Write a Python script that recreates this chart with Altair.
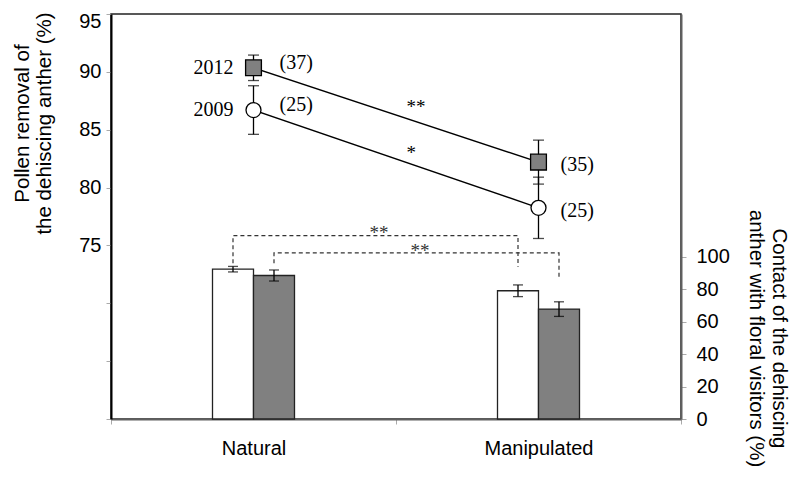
import altair as alt
import pandas as pd

categories = ["Natural", "Manipulated"]
years = ["2009", "2012"]

# Pollen removal of the dehiscing anther (%), mean and SE
pollen_mean_2009 = [86.7, 78.25]
pollen_se_2009 = [2.1, 2.65]
pollen_mean_2012 = [90.35, 82.2]
pollen_se_2012 = [1.1, 1.9]
sample_size_2009 = ["(25)", "(25)"]
sample_size_2012 = ["(37)", "(35)"]

# Contact of the dehiscing anther with floral visitors (%), mean and SE
contact_mean_2009 = [92.3, 79.0]
contact_se_2009 = [1.7, 3.6]
contact_mean_2012 = [88.4, 67.7]
contact_se_2012 = [3.4, 4.5]

# significance marks
line_sig = ["*", "**"]          # 2009, 2012 (pollen removal)
line_sig_y = [82.95, 86.93]
bracket_sig = ["**", "**"]      # 2009, 2012 (contact)
bracket_start = [96.0, 96.0]
bracket_top = [113.0, 102.3]
bracket_end = [93.8, 87.7]
bracket_sig_y = [114.3, 103.2]

# ---------------------------------------------------------------- tables
pollen_rows = []
for yr, means, ses, ns in [("2009", pollen_mean_2009, pollen_se_2009, sample_size_2009),
                           ("2012", pollen_mean_2012, pollen_se_2012, sample_size_2012)]:
    for c, m, s, n in zip(categories, means, ses, ns):
        pollen_rows.append({"category": c, "year": yr, "mean": m,
                            "low": m - s, "high": m + s, "n": n})
pollen_df = pd.DataFrame(pollen_rows)

contact_rows = []
for yr, means, ses in [("2009", contact_mean_2009, contact_se_2009),
                       ("2012", contact_mean_2012, contact_se_2012)]:
    for c, m, s in zip(categories, means, ses):
        contact_rows.append({"category": c, "year": yr, "mean": m,
                             "low": m - s, "high": m + s})
contact_df = pd.DataFrame(contact_rows)

bracket_rows = []
for i, yr in enumerate(years):
    pts = [(categories[0], bracket_start[i]), (categories[0], bracket_top[i]),
           (categories[1], bracket_top[i]), (categories[1], bracket_end[i])]
    for k, (c, v) in enumerate(pts):
        bracket_rows.append({"year": yr, "category": c, "value": v, "seq": k})
bracket_df = pd.DataFrame(bracket_rows)

bracket_sig_df = pd.DataFrame({"year": years, "category": categories[0],
                               "label": bracket_sig, "y": bracket_sig_y})
line_sig_df = pd.DataFrame({"year": years, "category": categories[0],
                            "label": line_sig, "y": line_sig_y})

# ---------------------------------------------------------------- scales / axes
FONT = "Liberation Sans"
SERIF = "Liberation Serif"

x_enc = alt.X("category:N",
              scale=alt.Scale(domain=categories, paddingInner=0, paddingOuter=0),
              axis=alt.Axis(orient="bottom", tickBand="extent", labelAngle=0,
                            domainColor="#606060", domainWidth=2,
                            tickColor="#aaaaaa", tickSize=5,
                            labelFontSize=20, labelFont=FONT, labelColor="black",
                            labelPadding=14, grid=False),
              title=None)

pollen_scale = alt.Scale(domain=[60, 95], nice=False, zero=False)
pollen_axis = alt.Axis(orient="left", values=[60, 65, 70, 75, 80, 85, 90, 95],
                       labelExpr="datum.value >= 75 ? datum.label : ''",
                       grid=False, domainColor="black", domainWidth=2,
                       tickColor="#aaaaaa", tickSize=5,
                       labelFontSize=20, labelFont=FONT, labelColor="black",
                       labelPadding=5, labelFlush=True, labelFlushOffset=3,
                       labelOverlap=False,
                       title=["Pollen removal of", "the dehiscing anther (%)"],
                       titleFontSize=20.5, titleFont=FONT, titleFontWeight="normal",
                       titleColor="black", titleAngle=270, titleX=-89, titleY=109,
                       titleAlign="center", titleBaseline="middle", titleLineHeight=22)

contact_scale = alt.Scale(domain=[0, 249.5], nice=False, zero=True)
contact_axis = alt.Axis(orient="right", values=[0, 20, 40, 60, 80, 100],
                        grid=False, domainColor="#606060", domainWidth=2,
                        tickColor="#aaaaaa", tickSize=5,
                        labelFontSize=20, labelFont=FONT, labelColor="black",
                        labelPadding=10, labelFlush=False, labelOverlap=False,
                        title=["Contact of the dehiscing", "anther with floral visitors (%)"],
                        titleFontSize=20.5, titleFont=FONT, titleFontWeight="normal",
                        titleColor="black", titleAngle=90, titleX=97, titleY=324,
                        titleAlign="center", titleBaseline="middle", titleLineHeight=23)


def py(field):
    return alt.Y(field, type="quantitative", scale=pollen_scale, axis=pollen_axis)


def cy(field):
    return alt.Y(field, type="quantitative", scale=contact_scale, axis=contact_axis)


x_off = alt.XOffset("year:N", scale=alt.Scale(domain=years, paddingInner=0,
                                              paddingOuter=0, range=[101.5, 183.5]))

# ---------------------------------------------------------------- pollen layers
pbase = alt.Chart(pollen_df)

p_rule = pbase.mark_rule(color="black", strokeWidth=1.3).encode(
    x=x_enc, y=py("low"), y2="high")
p_caps = pbase.transform_fold(["low", "high"], as_=["end", "val"]).mark_tick(
    color="black", thickness=1.3, size=11, orient="horizontal").encode(
    x=x_enc, y=py("val"))
p_line = pbase.mark_line(color="black", strokeWidth=1.4).encode(
    x=x_enc, y=py("mean"), detail="year:N")
p_circle = pbase.transform_filter(alt.datum.year == "2009").mark_point(
    shape="circle", size=225, fill="white", stroke="black", strokeWidth=1.3,
    opacity=1, fillOpacity=1).encode(x=x_enc, y=py("mean"))
p_square = pbase.transform_filter(alt.datum.year == "2012").mark_point(
    shape="square", size=250, fill="#808080", stroke="black", strokeWidth=1.3,
    opacity=1, fillOpacity=1).encode(x=x_enc, y=py("mean"))
p_year = pbase.transform_filter(alt.datum.category == "Natural").mark_text(
    font=SERIF, fontSize=20, align="right", baseline="middle", dx=-20, color="black").encode(
    x=x_enc, y=py("mean"), text="year:N")
p_n_nat = pbase.transform_filter(alt.datum.category == "Natural").mark_text(
    font=SERIF, fontSize=20, align="left", baseline="middle", dx=26, dy=-5, color="black").encode(
    x=x_enc, y=py("mean"), text="n:N")
p_n_man = pbase.transform_filter(alt.datum.category == "Manipulated").mark_text(
    font=SERIF, fontSize=20, align="left", baseline="middle", dx=22, dy=3, color="black").encode(
    x=x_enc, y=py("mean"), text="n:N")
p_sig = alt.Chart(line_sig_df).mark_text(
    font=SERIF, fontSize=19, align="left", baseline="middle", dx=153, color="black").encode(
    x=x_enc, y=py("y"), text="label:N")

pollen_layer = alt.layer(p_rule, p_caps, p_line, p_circle, p_square,
                         p_year, p_n_nat, p_n_man, p_sig)

# ---------------------------------------------------------------- contact layers
cbase = alt.Chart(contact_df)

c_bar = cbase.mark_bar(stroke="#222222", strokeWidth=1.3, opacity=1).encode(
    x=x_enc, xOffset=x_off, y=cy("mean"),
    fill=alt.Fill("year:N", scale=alt.Scale(domain=years, range=["white", "#808080"]),
                  legend=None))
c_rule = cbase.mark_rule(color="black", strokeWidth=1.3).encode(
    x=x_enc, xOffset=x_off, y=cy("low"), y2="high")
c_caps = cbase.transform_fold(["low", "high"], as_=["end", "val"]).mark_tick(
    color="black", thickness=1.3, size=10, orient="horizontal").encode(
    x=x_enc, xOffset=x_off, y=cy("val"))
c_bracket = alt.Chart(bracket_df).mark_line(
    color="#333333", strokeWidth=1.2, strokeDash=[4, 3]).encode(
    x=x_enc, xOffset=x_off, y=cy("value"), detail="year:N", order="seq:Q")
c_sig = alt.Chart(bracket_sig_df).mark_text(
    font=SERIF, fontSize=19, align="center", baseline="middle", dx=146, color="#333333").encode(
    x=x_enc, xOffset=x_off, y=cy("y"), text="label:N")

contact_layer = alt.layer(c_bar, c_rule, c_caps, c_bracket, c_sig)

chart = alt.layer(pollen_layer, contact_layer).resolve_scale(
    y="independent"
).properties(
    width=570, height=405,
    padding={"left": 103, "top": 6, "right": 111, "bottom": 52},
    autosize=alt.AutoSizeParams(type="none"),
).configure(font=FONT).configure_view(stroke="#222222", strokeWidth=1.5)

chart.save("out.html", embed_options={"renderer": "svg", "actions": False})
